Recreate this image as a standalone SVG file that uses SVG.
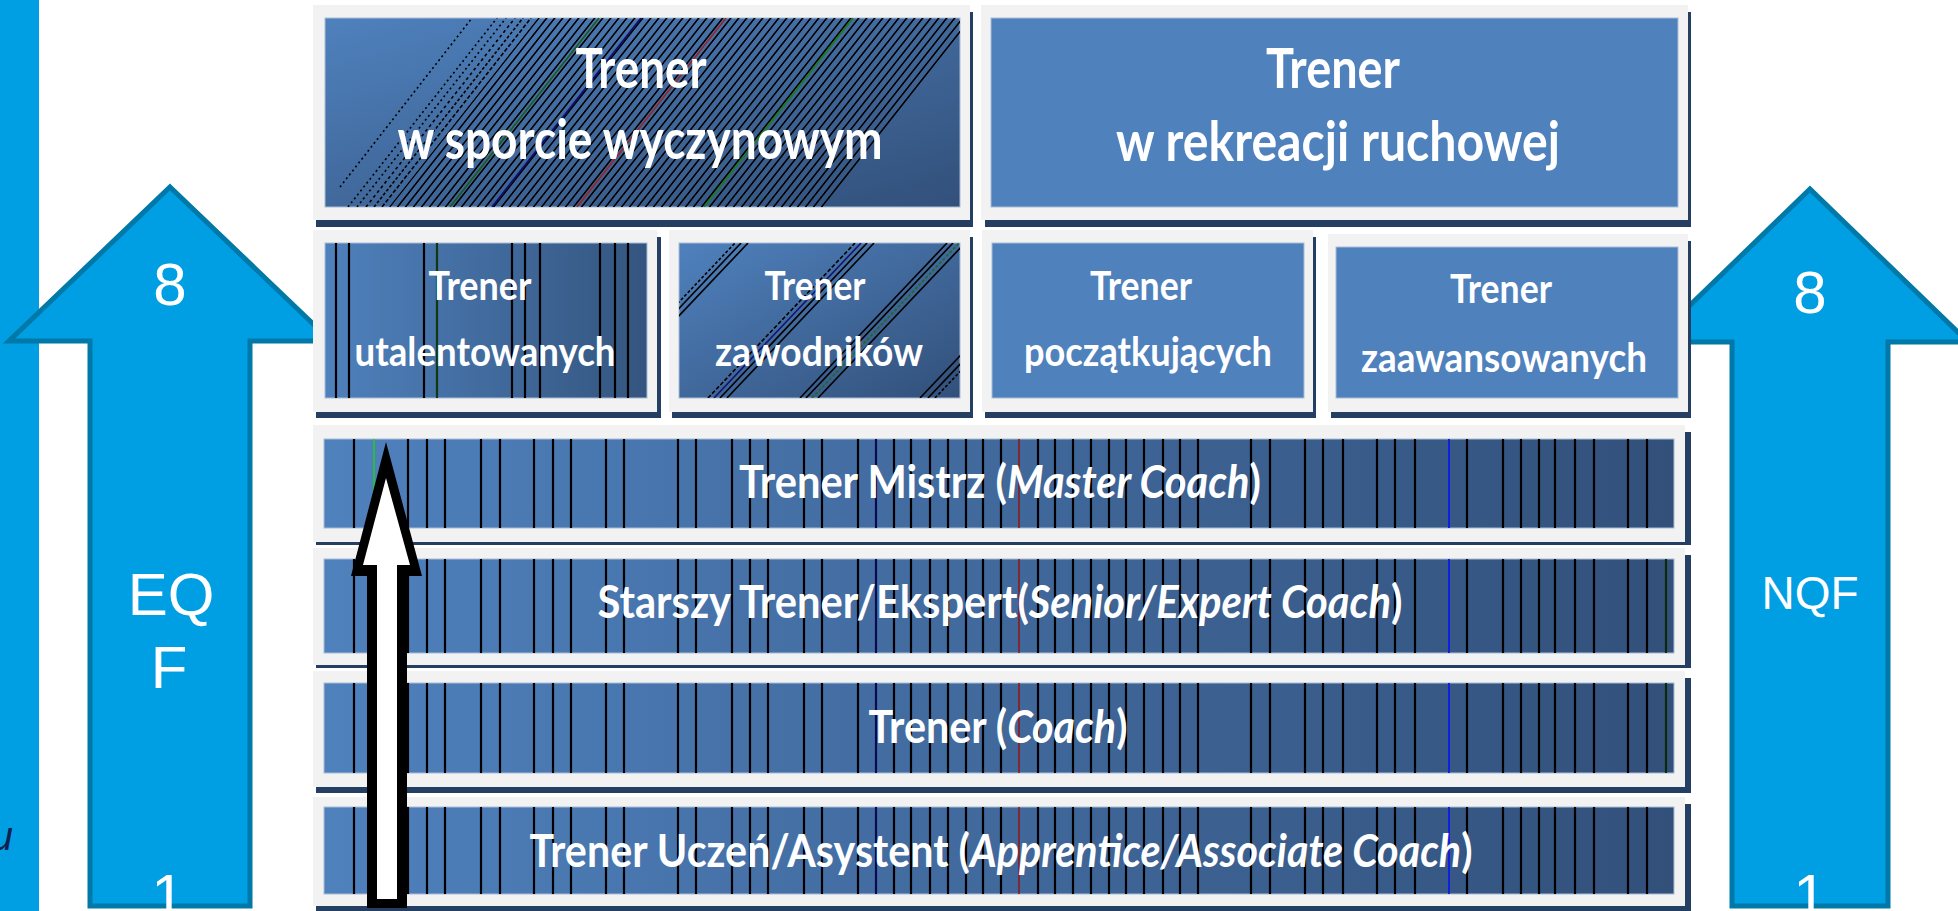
<svg xmlns="http://www.w3.org/2000/svg" xmlns:xlink="http://www.w3.org/1999/xlink" width="1958" height="911" viewBox="0 0 1958 911">
<style>
  .frame{fill:#F2F2F2}
  .shadow{fill:#243F62}
  .solid{fill:#4F81BD;stroke:#A9BDD8;stroke-width:1}
  .inner{stroke:#A9BDD8;stroke-width:1}
  .t{font-family:Lato,"Open Sans","Liberation Sans",sans-serif;font-weight:700;fill:#FFFFFF;text-anchor:middle}
  .i{font-style:italic}
  .big{font-size:56px}
  .mid{font-size:40px}
  .bar{font-size:46px}
  .arrow{fill:#009FE3;stroke:#0078A8;stroke-width:5;stroke-linejoin:miter}
  .at{font-family:"Liberation Sans",Arial,sans-serif;fill:#FFFFFF;text-anchor:middle}
  .vl line{stroke:#000000;stroke-width:2.2}
  .dl{stroke:#000000;stroke-width:1.6}
</style>
<defs>
  <linearGradient id="gBar" x1="0" y1="0" x2="1" y2="0">
    <stop offset="0" stop-color="#4F81BD"/>
    <stop offset="1" stop-color="#32507A"/>
  </linearGradient>
  <linearGradient id="gDiag" x1="0" y1="0" x2="1" y2="1">
    <stop offset="0" stop-color="#4F81BD"/>
    <stop offset="1" stop-color="#32507A"/>
  </linearGradient>
  <linearGradient id="gBox" x1="0" y1="0" x2="1" y2="0">
    <stop offset="0" stop-color="#4F81BD"/>
    <stop offset="1" stop-color="#34557F"/>
  </linearGradient>
  <pattern id="pStripe" patternUnits="userSpaceOnUse" width="8" height="20" patternTransform="skewX(-38.3)">
    <rect x="0" y="0" width="2" height="20" fill="#000000"/>
  </pattern>
  <clipPath id="cTL"><rect x="325" y="18" width="635" height="189"/></clipPath>
  <clipPath id="cB"><rect x="679" y="243" width="281" height="155"/></clipPath>
  <g id="vl" class="vl">
    <line x1="354" y1="0" x2="354" y2="100"/>
    <line x1="408" y1="0" x2="408" y2="100"/>
    <line x1="427" y1="0" x2="427" y2="100"/>
    <line x1="445" y1="0" x2="445" y2="100"/>
    <line x1="481" y1="0" x2="481" y2="100"/>
    <line x1="500" y1="0" x2="500" y2="100"/>
    <line x1="534" y1="0" x2="534" y2="100"/>
    <line x1="553" y1="0" x2="553" y2="100"/>
    <line x1="571" y1="0" x2="571" y2="100"/>
    <line x1="606" y1="0" x2="606" y2="100"/>
    <line x1="624" y1="0" x2="624" y2="100"/>
    <line x1="678" y1="0" x2="678" y2="100"/>
    <line x1="696" y1="0" x2="696" y2="100"/>
    <line x1="732" y1="0" x2="732" y2="100"/>
    <line x1="750" y1="0" x2="750" y2="100"/>
    <line x1="768" y1="0" x2="768" y2="100"/>
    <line x1="804" y1="0" x2="804" y2="100"/>
    <line x1="822" y1="0" x2="822" y2="100"/>
    <line x1="858" y1="0" x2="858" y2="100"/>
    <line x1="876" y1="0" x2="876" y2="100" style="stroke:#0A0A50"/>
    <line x1="894" y1="0" x2="894" y2="100"/>
    <line x1="911" y1="0" x2="911" y2="100"/>
    <line x1="930" y1="0" x2="930" y2="100"/>
    <line x1="948" y1="0" x2="948" y2="100"/>
    <line x1="966" y1="0" x2="966" y2="100"/>
    <line x1="983" y1="0" x2="983" y2="100"/>
    <line x1="1001" y1="0" x2="1001" y2="100"/>
    <line x1="1019" y1="0" x2="1019" y2="100" style="stroke:#8B1A1A;stroke-width:1.6"/>
    <line x1="1038" y1="0" x2="1038" y2="100"/>
    <line x1="1055" y1="0" x2="1055" y2="100"/>
    <line x1="1073" y1="0" x2="1073" y2="100"/>
    <line x1="1091" y1="0" x2="1091" y2="100"/>
    <line x1="1109" y1="0" x2="1109" y2="100"/>
    <line x1="1126" y1="0" x2="1126" y2="100"/>
    <line x1="1144" y1="0" x2="1144" y2="100"/>
    <line x1="1163" y1="0" x2="1163" y2="100"/>
    <line x1="1180" y1="0" x2="1180" y2="100"/>
    <line x1="1198" y1="0" x2="1198" y2="100"/>
    <line x1="1251" y1="0" x2="1251" y2="100"/>
    <line x1="1270" y1="0" x2="1270" y2="100"/>
    <line x1="1305" y1="0" x2="1305" y2="100"/>
    <line x1="1323" y1="0" x2="1323" y2="100"/>
    <line x1="1343" y1="0" x2="1343" y2="100"/>
    <line x1="1377" y1="0" x2="1377" y2="100"/>
    <line x1="1395" y1="0" x2="1395" y2="100"/>
    <line x1="1415" y1="0" x2="1415" y2="100"/>
    <line x1="1449" y1="0" x2="1449" y2="100" style="stroke:#1020E0;stroke-width:2"/>
    <line x1="1467" y1="0" x2="1467" y2="100"/>
    <line x1="1503" y1="0" x2="1503" y2="100"/>
    <line x1="1521" y1="0" x2="1521" y2="100"/>
    <line x1="1539" y1="0" x2="1539" y2="100"/>
    <line x1="1555" y1="0" x2="1555" y2="100"/>
    <line x1="1575" y1="0" x2="1575" y2="100"/>
    <line x1="1594" y1="0" x2="1594" y2="100"/>
    <line x1="1628" y1="0" x2="1628" y2="100"/>
    <line x1="1647" y1="0" x2="1647" y2="100"/>
  </g>
</defs>

<rect x="0" y="0" width="1958" height="911" fill="#FFFFFF"/>

<g id="left-strip">
  <rect x="0" y="0" width="39" height="911" fill="#009FE3"/>
  <text x="13" y="850" font-family="Liberation Sans, Arial, sans-serif" font-size="40" font-style="italic" fill="#10204F" text-anchor="end">u</text>
</g>

<g id="eqf-arrow">
  <path class="arrow" d="M170,187 L331,341 L250,341 L250,906 L90,906 L90,341 L9,341 Z"/>
  <text class="at" x="170" y="305" font-size="60">8</text>
  <text class="at" x="171" y="615" font-size="60">EQ</text>
  <text class="at" x="169" y="688" font-size="60">F</text>
  <text class="at" x="168" y="916" font-size="60">1</text>
</g>

<g id="nqf-arrow">
  <path class="arrow" d="M1810,189 L1968,342 L1888,342 L1888,906 L1732,906 L1732,342 L1652,342 Z"/>
  <text class="at" x="1810" y="313" font-size="60">8</text>
  <text class="at" x="1810" y="609" font-size="46">NQF</text>
  <text class="at" x="1810" y="916" font-size="60">1</text>
</g>

<g id="box-sport">
  <rect class="shadow" x="316" y="12" width="657" height="215"/>
  <rect class="frame" x="313" y="5" width="657" height="215"/>
  <rect class="inner" x="325" y="18" width="635" height="189" fill="url(#gDiag)"/>
  <g clip-path="url(#cTL)">
    <polygon points="389,207 826,207 975,18 538,18" fill="url(#pStripe)"/>
    <line class="dl" x1="340" y1="187" x2="472" y2="18" stroke-dasharray="2 3"/>
    <line class="dl" x1="348" y1="207" x2="497" y2="18" stroke-dasharray="2 3"/>
    <line class="dl" x1="357" y1="207" x2="506" y2="18" stroke-dasharray="2 3"/>
    <line class="dl" x1="366" y1="207" x2="515" y2="18" stroke-dasharray="3 3"/>
    <line class="dl" x1="374" y1="207" x2="523" y2="18" stroke-dasharray="3 2"/>
    <line class="dl" x1="382" y1="207" x2="531" y2="18" stroke-dasharray="4 2"/>
    <line x1="450" y1="207" x2="599" y2="18" stroke="#1A5A1A" stroke-width="1.6"/>
    <line x1="492" y1="207" x2="641" y2="18" stroke="#101070" stroke-width="1.8"/>
    <line x1="577" y1="207" x2="726" y2="18" stroke="#A02020" stroke-width="1.4"/>
    <line x1="704" y1="207" x2="853" y2="18" stroke="#1E7A1E" stroke-width="1.8"/>
  </g>
  <text class="t big" x="641" y="88" textLength="131" lengthAdjust="spacingAndGlyphs">Trener</text>
  <text class="t big" x="640" y="159" textLength="485" lengthAdjust="spacingAndGlyphs">w sporcie wyczynowym</text>
</g>

<g id="box-rekreacja">
  <rect class="shadow" x="985" y="12" width="706" height="215"/>
  <rect class="frame" x="981" y="5" width="707" height="215"/>
  <rect class="solid" x="991" y="18" width="687" height="189"/>
  <text class="t big" x="1333" y="88" textLength="134" lengthAdjust="spacingAndGlyphs">Trener</text>
  <text class="t big" x="1338" y="161" textLength="444" lengthAdjust="spacingAndGlyphs">w rekreacji ruchowej</text>
</g>

<g id="box-utalentowanych">
  <rect class="shadow" x="316" y="237" width="345" height="181"/>
  <rect class="frame" x="313" y="230" width="344" height="182"/>
  <rect class="inner" x="325" y="243" width="322" height="155" fill="url(#gBox)"/>
  <g class="vl">
    <line x1="336" y1="243" x2="336" y2="398"/>
    <line x1="349" y1="243" x2="349" y2="398"/>
    <line x1="424" y1="243" x2="424" y2="398"/>
    <line x1="437" y1="243" x2="437" y2="398" style="stroke:#0F3A0F"/>
    <line x1="512" y1="243" x2="512" y2="398"/>
    <line x1="525" y1="243" x2="525" y2="398"/>
    <line x1="540" y1="243" x2="540" y2="398"/>
    <line x1="600" y1="243" x2="600" y2="398"/>
    <line x1="615" y1="243" x2="615" y2="398"/>
    <line x1="628" y1="243" x2="628" y2="398"/>
  </g>
  <text class="t mid" x="480" y="300" textLength="103" lengthAdjust="spacingAndGlyphs">Trener</text>
  <text class="t mid" x="485" y="366" textLength="261" lengthAdjust="spacingAndGlyphs">utalentowanych</text>
</g>

<g id="box-zawodnikow">
  <rect class="shadow" x="672" y="237" width="301" height="181"/>
  <rect class="frame" x="669" y="230" width="301" height="182"/>
  <rect class="inner" x="679" y="243" width="281" height="155" fill="url(#gDiag)"/>
  <g clip-path="url(#cB)" stroke="#000000" stroke-width="1.6">
    <line x1="588" y1="398" x2="735" y2="243" stroke-dasharray="3 2"/>
    <line x1="594" y1="398" x2="741" y2="243"/>
    <line x1="601" y1="398" x2="748" y2="243"/>
    <line x1="708" y1="398" x2="855" y2="243" stroke-dasharray="4 2"/>
    <line x1="714" y1="398" x2="861" y2="243" stroke="#141470"/>
    <line x1="720" y1="398" x2="867" y2="243"/>
    <line x1="727" y1="398" x2="874" y2="243"/>
    <line x1="800" y1="398" x2="947" y2="243"/>
    <line x1="806" y1="398" x2="953" y2="243"/>
    <line x1="812" y1="398" x2="959" y2="243" stroke="#1E6A1E" stroke-dasharray="3 2"/>
    <line x1="818" y1="398" x2="965" y2="243"/>
    <line x1="920" y1="398" x2="1067" y2="243"/>
    <line x1="928" y1="398" x2="1075" y2="243"/>
    <line x1="935" y1="398" x2="1082" y2="243" stroke-dasharray="3 2"/>
  </g>
  <text class="t mid" x="815" y="300" textLength="101" lengthAdjust="spacingAndGlyphs">Trener</text>
  <text class="t mid" x="819" y="366" textLength="208" lengthAdjust="spacingAndGlyphs">zawodników</text>
</g>

<g id="box-poczatkujacych">
  <rect class="shadow" x="985" y="237" width="331" height="181"/>
  <rect class="frame" x="982" y="230" width="331" height="182"/>
  <rect class="solid" x="992" y="243" width="312" height="155"/>
  <text class="t mid" x="1141" y="300" textLength="102" lengthAdjust="spacingAndGlyphs">Trener</text>
  <text class="t mid" x="1148" y="366" textLength="248" lengthAdjust="spacingAndGlyphs">początkujących</text>
</g>

<g id="box-zaawansowanych">
  <rect class="shadow" x="1331" y="241" width="360" height="177"/>
  <rect class="frame" x="1328" y="234" width="360" height="178"/>
  <rect class="solid" x="1336" y="247" width="342" height="151"/>
  <text class="t mid" x="1501" y="303" textLength="102" lengthAdjust="spacingAndGlyphs">Trener</text>
  <text class="t mid" x="1504" y="372" textLength="286" lengthAdjust="spacingAndGlyphs">zaawansowanych</text>
</g>

<g id="level-master">
  <rect class="shadow" x="316" y="432" width="1375" height="113"/>
  <rect class="frame" x="313" y="425" width="1372" height="117"/>
  <rect class="inner" x="324" y="439" width="1350" height="89" fill="url(#gBar)"/>
  <use xlink:href="#vl" href="#vl" transform="translate(0,439) scale(1,0.89)"/>
  <line x1="374" y1="439" x2="374" y2="497" stroke="#22CC22" stroke-width="1.5"/>
  <text class="t bar" x="1000" y="498" textLength="522" lengthAdjust="spacingAndGlyphs">Trener Mistrz (<tspan class="i">Master Coach</tspan>)</text>
</g>

<g id="level-senior">
  <rect class="shadow" x="316" y="555" width="1375" height="113"/>
  <rect class="frame" x="313" y="548" width="1372" height="117"/>
  <rect class="inner" x="324" y="559" width="1350" height="94" fill="url(#gBar)"/>
  <use xlink:href="#vl" href="#vl" transform="translate(0,559) scale(1,0.94)"/>
  <line x1="1666" y1="559" x2="1666" y2="653" stroke="#0A2A0A" stroke-width="2.2"/>
  <text class="t bar" x="1000" y="618" textLength="805" lengthAdjust="spacingAndGlyphs">Starszy Trener/Ekspert(<tspan class="i">Senior/Expert Coach</tspan>)</text>
</g>

<g id="level-coach">
  <rect class="shadow" x="316" y="678" width="1375" height="115"/>
  <rect class="frame" x="313" y="671" width="1372" height="116"/>
  <rect class="inner" x="324" y="683" width="1350" height="90" fill="url(#gBar)"/>
  <use xlink:href="#vl" href="#vl" transform="translate(0,683) scale(1,0.90)"/>
  <line x1="1666" y1="683" x2="1666" y2="773" stroke="#0A2A0A" stroke-width="2.2"/>
  <text class="t bar" x="998" y="743" textLength="259" lengthAdjust="spacingAndGlyphs">Trener (<tspan class="i">Coach</tspan>)</text>
</g>

<g id="level-apprentice">
  <rect class="shadow" x="316" y="804" width="1375" height="108"/>
  <rect class="frame" x="313" y="797" width="1372" height="109"/>
  <rect class="inner" x="324" y="807" width="1350" height="87" fill="url(#gBar)"/>
  <use xlink:href="#vl" href="#vl" transform="translate(0,807) scale(1,0.87)"/>
  <text class="t bar" x="1001" y="867" textLength="943" lengthAdjust="spacingAndGlyphs">Trener Uczeń/Asystent (<tspan class="i">Apprentice/Associate Coach</tspan>)</text>
</g>

<g id="connectors">
  <polygon points="386,442 422,576 407,576 407,908 367,908 367,576 351,576" fill="#000000"/>
  <polygon points="386,478 410,565 397,565 397,899 377,899 377,565 363,565" fill="#FFFFFF"/>
</g>
</svg>
